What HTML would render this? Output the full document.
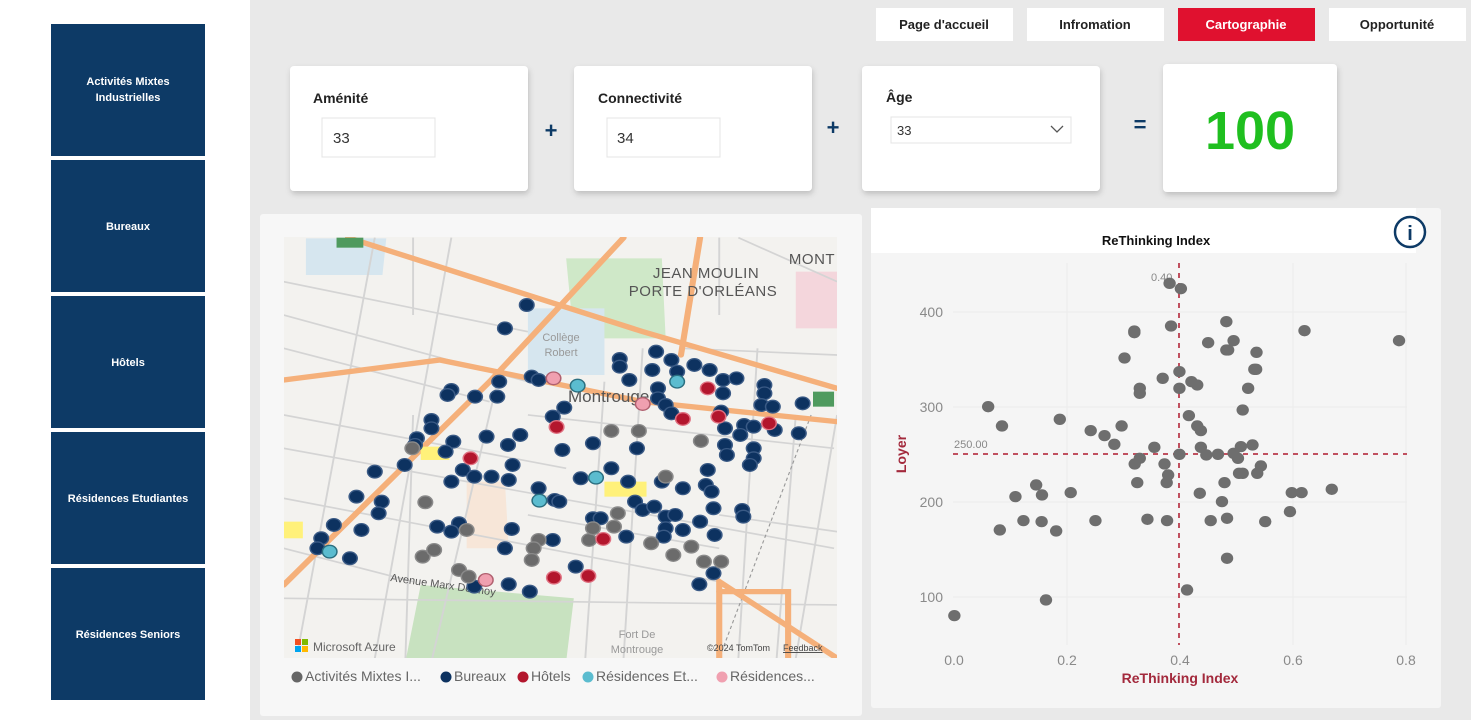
<!DOCTYPE html>
<html><head><meta charset="utf-8"><style>
html,body{margin:0;padding:0;background:#e8e8e8;}
svg{display:block;font-family:"Liberation Sans",Arial,sans-serif;}
</style></head><body>
<svg width="1471" height="720" viewBox="0 0 1471 720" xmlns="http://www.w3.org/2000/svg">
<defs><filter id="sh" x="-10%" y="-10%" width="120%" height="130%"><feDropShadow dx="1" dy="3" stdDeviation="3" flood-opacity="0.18"/></filter></defs>
<rect width="1471" height="720" fill="#e9e9e9"/>
<rect x="0" y="0" width="250" height="720" fill="#ffffff"/>
<g fill="#0d3a66">
<rect x="51" y="24" width="154" height="132"/><rect x="51" y="160" width="154" height="132"/><rect x="51" y="296" width="154" height="132"/><rect x="51" y="432" width="154" height="132"/><rect x="51" y="568" width="154" height="132"/>
</g>
<g fill="#fff" font-size="11" font-weight="bold" text-anchor="middle">
<text x="128" y="85">Activités Mixtes</text><text x="128" y="101">Industrielles</text>
<text x="128" y="230">Bureaux</text><text x="128" y="366">Hôtels</text>
<text x="128" y="502">Résidences Etudiantes</text><text x="128" y="638">Résidences Seniors</text>
</g>
<!-- nav -->
<g font-size="13" font-weight="bold" text-anchor="middle">
<rect x="876" y="8" width="137" height="33" fill="#fff"/><text x="944" y="29" fill="#222">Page d'accueil</text>
<rect x="1027" y="8" width="137" height="33" fill="#fff"/><text x="1095" y="29" fill="#222">Infromation</text>
<rect x="1178" y="8" width="137" height="33" fill="#e0112f"/><text x="1246" y="29" fill="#fff">Cartographie</text>
<rect x="1329" y="8" width="137" height="33" fill="#fff"/><text x="1397" y="29" fill="#222">Opportunité</text>
</g>
<!-- cards -->
<g filter="url(#sh)" fill="#fff">
<rect x="290" y="66" width="238" height="125" rx="4"/><rect x="574" y="66" width="238" height="125" rx="4"/>
<rect x="862" y="66" width="238" height="125" rx="4"/><rect x="1163" y="64" width="174" height="128" rx="4"/>
</g>
<g font-size="14" font-weight="bold" fill="#222">
<text x="313" y="103">Aménité</text><text x="598" y="103">Connectivité</text><text x="886" y="102">Âge</text>
</g>
<rect x="322" y="118" width="113" height="39" fill="#fff" stroke="#e4e4e4"/><text x="333" y="143" font-size="15" fill="#333">33</text>
<rect x="607" y="118" width="113" height="39" fill="#fff" stroke="#e4e4e4"/><text x="617" y="143" font-size="15" fill="#333">34</text>
<rect x="891" y="117" width="180" height="26" fill="#fff" stroke="#e4e4e4"/><text x="897" y="135" font-size="13" fill="#333">33</text>
<path d="M1051 126 l6 6 l6 -6" fill="none" stroke="#555" stroke-width="1.3"/>
<g font-size="22" font-weight="bold" fill="#0d3a66" text-anchor="middle">
<text x="551" y="138">+</text><text x="833" y="135">+</text><text x="1140" y="132">=</text>
</g>
<text x="1250" y="149" font-size="54" font-weight="bold" fill="#1fbf1f" text-anchor="middle">100</text>
<!-- map panel -->
<rect x="260" y="214" width="602" height="502" fill="#f7f7f7" rx="3"/>
<svg x="284" y="237" width="553" height="421" viewBox="0 0 553 421" overflow="hidden">
<g transform="translate(-24,-22) scale(0.3827,0.3333)">
<rect x="0" y="0" width="1600" height="1400" fill="#f3f2ef"/>
<polygon points="800,130 1050,130 1060,370 820,370" fill="#cfe8c8"/>
<polygon points="700,280 900,280 900,480 700,480" fill="#d6e6ef"/>
<polygon points="420,1110 820,1150 800,1340 380,1340" fill="#c8e2c0"/>
<polygon points="540,800 640,800 650,1000 540,1000" fill="#f7e6d8"/>
<polygon points="120,70 330,70 320,180 120,180" fill="#d6e6ef"/>
<polygon points="1400,170 1508,170 1508,340 1400,340" fill="#f4d6dc"/>
<g stroke="#d4d4d4" stroke-width="5" fill="none">
<path d="M62 300 L700 500 M62 400 L600 560 M62 700 L1500 1000 M62 850 L1200 1100 M300 68 L100 1300 M500 68 L300 1330 M620 500 L450 1330 M900 500 L850 1330 M1000 400 L950 1330 M1300 400 L1250 1330 M1400 600 L1350 1330 M62 1150 L1508 1170 M62 600 L800 760 M700 600 L1500 700 M62 200 L700 350 M1100 400 L1508 420 M1200 900 L1508 950 M62 1000 L400 1100 M400 600 L380 1330 M700 900 L1200 1000 M1508 600 L1400 1330 M1250 68 L1508 200 M400 68 L400 300 M1200 68 L1200 300"/>
</g>
<path d="M1440 600 L1200 1330" stroke="#999" stroke-width="3" stroke-dasharray="10,8" fill="none"/>
<g stroke="#f5b07a" stroke-width="16" fill="none" stroke-linecap="round">
<path d="M230 68 L1000 350 L1508 520"/>
<path d="M62 1110 L600 500 L950 68"/>
<path d="M62 495 L470 435 L1000 560 L1508 620"/>
<path d="M1150 68 L1100 420"/>
<path d="M1200 1330 L1200 1100 L1508 1330"/>
<path d="M1200 1130 L1380 1130 L1380 1330"/>
</g>
<rect x="1445" y="530" width="55" height="45" fill="#4f9a5e"/><rect x="200" y="68" width="70" height="30" fill="#4f9a5e"/>
<rect x="420" y="695" width="75" height="40" fill="#fff17a"/><rect x="900" y="800" width="110" height="45" fill="#fff17a"/><rect x="62" y="920" width="50" height="50" fill="#fff17a"/>
</g>
</svg>
<g font-size="15" fill="#555" text-anchor="middle" letter-spacing="0.5">
<text x="706" y="278">JEAN MOULIN</text><text x="703" y="296">PORTE D'ORLÉANS</text><text x="812" y="264">MONT</text>
</g>
<g font-size="11" fill="#999" text-anchor="middle"><text x="561" y="341">Collège</text><text x="561" y="356">Robert</text><text x="637" y="638">Fort De</text><text x="637" y="653">Montrouge</text></g>
<text x="568" y="402" font-size="17" fill="#555">Montrouge</text>
<text x="390" y="581" font-size="11" fill="#555" transform="rotate(8 390 581)">Avenue Marx Dormoy</text>
<!-- map dots -->
<svg x="284" y="237" width="553" height="421" viewBox="0 0 553 421" overflow="hidden">
<g transform="translate(-24,-22) scale(0.3827,0.3333)" stroke-width="4">
<g fill="#0d3260" stroke="#3a5a85">
<circle cx="697" cy="270" r="19"/><circle cx="640" cy="340" r="19"/><circle cx="940" cy="432" r="19"/><circle cx="940" cy="455" r="19"/><circle cx="1035" cy="410" r="19"/><circle cx="1075" cy="435" r="19"/><circle cx="1090" cy="470" r="19"/><circle cx="1135" cy="450" r="19"/><circle cx="1175" cy="465" r="19"/><circle cx="1210" cy="495" r="19"/><circle cx="1245" cy="490" r="19"/><circle cx="1318" cy="510" r="19"/><circle cx="1318" cy="535" r="19"/><circle cx="1418" cy="565" r="19"/><circle cx="1025" cy="465" r="19"/><circle cx="965" cy="495" r="19"/><circle cx="710" cy="485" r="19"/><circle cx="728" cy="495" r="19"/><circle cx="625" cy="500" r="19"/><circle cx="620" cy="545" r="19"/><circle cx="562" cy="545" r="19"/><circle cx="500" cy="525" r="19"/><circle cx="490" cy="540" r="19"/><circle cx="795" cy="578" r="19"/><circle cx="765" cy="605" r="19"/><circle cx="1040" cy="520" r="19"/><circle cx="1040" cy="550" r="19"/><circle cx="1060" cy="570" r="19"/><circle cx="1075" cy="595" r="19"/><circle cx="1210" cy="535" r="19"/><circle cx="1310" cy="570" r="19"/><circle cx="1340" cy="575" r="19"/><circle cx="1205" cy="590" r="19"/><circle cx="1215" cy="640" r="19"/><circle cx="1265" cy="630" r="19"/><circle cx="1290" cy="635" r="19"/><circle cx="1255" cy="660" r="19"/><circle cx="1345" cy="645" r="19"/><circle cx="1408" cy="655" r="19"/><circle cx="1215" cy="690" r="19"/><circle cx="1220" cy="720" r="19"/><circle cx="1290" cy="700" r="19"/><circle cx="1290" cy="730" r="19"/><circle cx="1280" cy="750" r="19"/><circle cx="448" cy="615" r="19"/><circle cx="448" cy="640" r="19"/><circle cx="410" cy="670" r="19"/><circle cx="405" cy="690" r="19"/><circle cx="505" cy="680" r="19"/><circle cx="485" cy="710" r="19"/><circle cx="592" cy="665" r="19"/><circle cx="680" cy="660" r="19"/><circle cx="648" cy="690" r="19"/><circle cx="790" cy="705" r="19"/><circle cx="870" cy="685" r="19"/><circle cx="985" cy="700" r="19"/><circle cx="378" cy="750" r="19"/><circle cx="300" cy="770" r="19"/><circle cx="530" cy="765" r="19"/><circle cx="560" cy="785" r="19"/><circle cx="500" cy="800" r="19"/><circle cx="605" cy="785" r="19"/><circle cx="650" cy="795" r="19"/><circle cx="660" cy="750" r="19"/><circle cx="838" cy="790" r="19"/><circle cx="918" cy="760" r="19"/><circle cx="962" cy="800" r="19"/><circle cx="1050" cy="800" r="19"/><circle cx="1105" cy="820" r="19"/><circle cx="1170" cy="765" r="19"/><circle cx="1165" cy="810" r="19"/><circle cx="1180" cy="830" r="19"/><circle cx="728" cy="820" r="19"/><circle cx="770" cy="855" r="19"/><circle cx="782" cy="860" r="19"/><circle cx="252" cy="845" r="19"/><circle cx="318" cy="860" r="19"/><circle cx="310" cy="895" r="19"/><circle cx="193" cy="930" r="19"/><circle cx="265" cy="945" r="19"/><circle cx="160" cy="970" r="19"/><circle cx="150" cy="1000" r="19"/><circle cx="235" cy="1030" r="19"/><circle cx="463" cy="935" r="19"/><circle cx="520" cy="925" r="19"/><circle cx="500" cy="950" r="19"/><circle cx="658" cy="942" r="19"/><circle cx="870" cy="910" r="19"/><circle cx="890" cy="910" r="19"/><circle cx="640" cy="1000" r="19"/><circle cx="765" cy="975" r="19"/><circle cx="957" cy="965" r="19"/><circle cx="980" cy="860" r="19"/><circle cx="1000" cy="885" r="19"/><circle cx="1030" cy="875" r="19"/><circle cx="1060" cy="905" r="19"/><circle cx="1085" cy="900" r="19"/><circle cx="1060" cy="940" r="19"/><circle cx="1055" cy="965" r="19"/><circle cx="1105" cy="945" r="19"/><circle cx="1150" cy="920" r="19"/><circle cx="1188" cy="960" r="19"/><circle cx="1185" cy="880" r="19"/><circle cx="1260" cy="885" r="19"/><circle cx="1263" cy="905" r="19"/><circle cx="1185" cy="1075" r="19"/><circle cx="1148" cy="1108" r="19"/><circle cx="825" cy="1055" r="19"/><circle cx="650" cy="1108" r="19"/><circle cx="705" cy="1130" r="19"/><circle cx="560" cy="1115" r="19"/>
</g>
<g fill="#6b6b6b" stroke="#8a8a8a">
<circle cx="918" cy="648" r="19"/><circle cx="990" cy="648" r="19"/><circle cx="1152" cy="678" r="19"/><circle cx="398" cy="700" r="19"/><circle cx="432" cy="862" r="19"/><circle cx="425" cy="1025" r="19"/><circle cx="455" cy="1005" r="19"/><circle cx="540" cy="945" r="19"/><circle cx="728" cy="975" r="19"/><circle cx="715" cy="1000" r="19"/><circle cx="710" cy="1035" r="19"/><circle cx="520" cy="1065" r="19"/><circle cx="545" cy="1085" r="19"/><circle cx="860" cy="975" r="19"/><circle cx="935" cy="895" r="19"/><circle cx="925" cy="935" r="19"/><circle cx="1022" cy="985" r="19"/><circle cx="1080" cy="1020" r="19"/><circle cx="1127" cy="995" r="19"/><circle cx="1160" cy="1040" r="19"/><circle cx="1205" cy="1040" r="19"/><circle cx="1060" cy="785" r="19"/><circle cx="870" cy="940" r="19"/>
</g>
<g fill="#b3162d" stroke="#e07080">
<circle cx="1170" cy="520" r="19"/><circle cx="1105" cy="612" r="19"/><circle cx="1198" cy="605" r="19"/><circle cx="1330" cy="625" r="19"/><circle cx="775" cy="636" r="19"/><circle cx="550" cy="730" r="19"/><circle cx="897" cy="972" r="19"/><circle cx="768" cy="1088" r="19"/><circle cx="858" cy="1083" r="19"/>
</g>
<g fill="#5bbccf" stroke="#2b6f80">
<circle cx="830" cy="512" r="19"/><circle cx="1090" cy="500" r="19"/><circle cx="878" cy="788" r="19"/><circle cx="730" cy="857" r="19"/><circle cx="182" cy="1010" r="19"/>
</g>
<g fill="#f0a0b0" stroke="#b0606f">
<circle cx="767" cy="490" r="19"/><circle cx="1000" cy="567" r="19"/><circle cx="590" cy="1095" r="19"/>
</g>
</g>
</svg>
<rect x="295" y="639" width="6" height="6" fill="#f25022"/><rect x="302" y="639" width="6" height="6" fill="#7fba00"/><rect x="295" y="646" width="6" height="6" fill="#00a4ef"/><rect x="302" y="646" width="6" height="6" fill="#ffb900"/>
<text x="313" y="651" font-size="12" fill="#666">Microsoft Azure</text>
<text x="707" y="651" font-size="9" fill="#444">©2024 TomTom</text><text x="783" y="651" font-size="9" fill="#444" text-decoration="underline">Feedback</text>
<!-- legend -->
<g font-size="14" fill="#666">
<circle cx="297" cy="677" r="5.5" fill="#666"/><text x="305" y="681">Activités Mixtes I...</text>
<circle cx="446" cy="677" r="5.5" fill="#0d3260"/><text x="454" y="681">Bureaux</text>
<circle cx="523" cy="677" r="5.5" fill="#b3162d"/><text x="531" y="681">Hôtels</text>
<circle cx="588" cy="677" r="5.5" fill="#5bbccf"/><text x="596" y="681">Résidences Et...</text>
<circle cx="722" cy="677" r="5.5" fill="#f0a0b0"/><text x="730" y="681">Résidences...</text>
</g>
<!-- scatter panel -->
<rect x="871" y="208" width="570" height="500" fill="#f5f5f5" rx="3"/>
<rect x="871" y="208" width="545" height="45" fill="#ffffff"/>
<text x="1156" y="245" font-size="13" font-weight="bold" fill="#111" text-anchor="middle">ReThinking Index</text>
<circle cx="1410" cy="232" r="15" fill="#fff" stroke="#0d3a66" stroke-width="2.5"/><text x="1410" y="240" font-size="20" font-weight="bold" fill="#0d3a66" text-anchor="middle">i</text>
<g stroke="#ececec" stroke-width="1">
<line x1="953" y1="312" x2="1407" y2="312"/><line x1="953" y1="407" x2="1407" y2="407"/><line x1="953" y1="502" x2="1407" y2="502"/><line x1="953" y1="597" x2="1407" y2="597"/>
<line x1="1067" y1="263" x2="1067" y2="645"/><line x1="1293" y1="263" x2="1293" y2="645"/><line x1="1406" y1="263" x2="1406" y2="645"/>
</g>
<g font-size="14" fill="#8a8a8a">
<text x="943" y="317" text-anchor="end">400</text><text x="943" y="412" text-anchor="end">300</text><text x="943" y="507" text-anchor="end">200</text><text x="943" y="602" text-anchor="end">100</text>
<g text-anchor="middle"><text x="954" y="665">0.0</text><text x="1067" y="665">0.2</text><text x="1180" y="665">0.4</text><text x="1293" y="665">0.6</text><text x="1406" y="665">0.8</text></g>
</g>
<text x="1151" y="281" font-size="11" fill="#888">0.40</text>
<text x="954" y="448" font-size="11" fill="#888">250.00</text>
<line x1="953" y1="454" x2="1407" y2="454" stroke="#c0505f" stroke-width="2" stroke-dasharray="5,5"/>
<line x1="1179" y1="263" x2="1179" y2="645" stroke="#c0505f" stroke-width="2" stroke-dasharray="5,5"/>
<text x="1180" y="683" font-size="14" font-weight="bold" fill="#a3293c" text-anchor="middle">ReThinking Index</text>
<text transform="translate(906 454) rotate(-90)" font-size="14" font-weight="bold" fill="#a3293c" text-anchor="middle">Loyer</text>
<g transform="translate(870,210) scale(0.3636,0.3333)" fill="#6e6e6e">
<circle cx="824" cy="220" r="17"/><circle cx="855" cy="236" r="17"/><circle cx="727" cy="363" r="17"/><circle cx="727" cy="368" r="17"/><circle cx="828" cy="348" r="17"/><circle cx="980" cy="335" r="17"/><circle cx="1195" cy="362" r="17"/><circle cx="1455" cy="392" r="17"/><circle cx="930" cy="398" r="17"/><circle cx="1000" cy="392" r="17"/><circle cx="980" cy="420" r="17"/><circle cx="985" cy="420" r="17"/><circle cx="1063" cy="427" r="17"/><circle cx="700" cy="444" r="17"/><circle cx="851" cy="485" r="17"/><circle cx="805" cy="505" r="17"/><circle cx="742" cy="535" r="17"/><circle cx="742" cy="550" r="17"/><circle cx="851" cy="535" r="17"/><circle cx="884" cy="515" r="17"/><circle cx="900" cy="525" r="17"/><circle cx="1040" cy="535" r="17"/><circle cx="1057" cy="478" r="17"/><circle cx="1062" cy="478" r="17"/><circle cx="325" cy="590" r="17"/><circle cx="1025" cy="600" r="17"/><circle cx="877" cy="617" r="17"/><circle cx="522" cy="628" r="17"/><circle cx="363" cy="648" r="17"/><circle cx="692" cy="648" r="17"/><circle cx="900" cy="648" r="17"/><circle cx="910" cy="662" r="17"/><circle cx="607" cy="662" r="17"/><circle cx="645" cy="677" r="17"/><circle cx="672" cy="703" r="17"/><circle cx="782" cy="712" r="17"/><circle cx="1052" cy="705" r="17"/><circle cx="1020" cy="710" r="17"/><circle cx="910" cy="712" r="17"/><circle cx="925" cy="735" r="17"/><circle cx="957" cy="733" r="17"/><circle cx="851" cy="733" r="17"/><circle cx="1000" cy="730" r="17"/><circle cx="1012" cy="745" r="17"/><circle cx="742" cy="745" r="17"/><circle cx="728" cy="762" r="17"/><circle cx="810" cy="762" r="17"/><circle cx="1075" cy="768" r="17"/><circle cx="1065" cy="790" r="17"/><circle cx="1015" cy="790" r="17"/><circle cx="1025" cy="790" r="17"/><circle cx="820" cy="795" r="17"/><circle cx="816" cy="818" r="17"/><circle cx="735" cy="818" r="17"/><circle cx="975" cy="818" r="17"/><circle cx="457" cy="825" r="17"/><circle cx="473" cy="855" r="17"/><circle cx="400" cy="860" r="17"/><circle cx="552" cy="848" r="17"/><circle cx="907" cy="850" r="17"/><circle cx="1160" cy="848" r="17"/><circle cx="1187" cy="848" r="17"/><circle cx="1270" cy="838" r="17"/><circle cx="968" cy="875" r="17"/><circle cx="1155" cy="905" r="17"/><circle cx="422" cy="932" r="17"/><circle cx="472" cy="935" r="17"/><circle cx="620" cy="932" r="17"/><circle cx="763" cy="928" r="17"/><circle cx="817" cy="932" r="17"/><circle cx="937" cy="932" r="17"/><circle cx="982" cy="925" r="17"/><circle cx="1087" cy="935" r="17"/><circle cx="357" cy="960" r="17"/><circle cx="512" cy="963" r="17"/><circle cx="982" cy="1045" r="17"/><circle cx="872" cy="1140" r="17"/><circle cx="484" cy="1170" r="17"/><circle cx="232" cy="1217" r="17"/>
</g>
</svg>
</body></html>
